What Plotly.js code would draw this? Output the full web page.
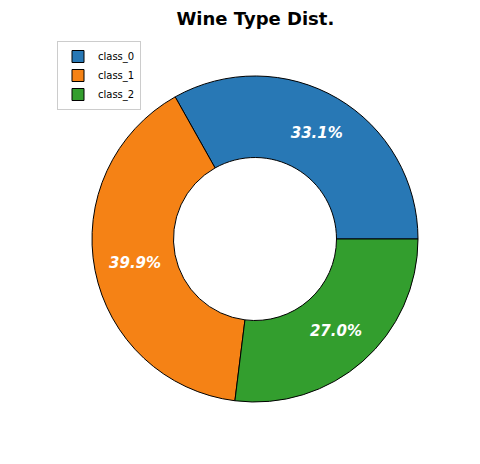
<!DOCTYPE html>
<html>
<head>
<meta charset="utf-8">
<script src="https://cdn.plot.ly/plotly-3.0.1.min.js"></script>
<style>
  html, body { margin: 0; padding: 0; background: #fff; }
  #chart { width: 480px; height: 464px; }
</style>
</head>
<body>
<div id="chart"></div>
<script>
// wine target counts per class
const classNames = ['class_0', 'class_1', 'class_2'];
const classCounts = [59, 71, 48];
const sliceColors = ['#2878b5', '#f58215', '#339e2e'];

// plotly's counterclockwise mode puts the end of the first slice at `rotation`,
// so shift it so that class_0 starts at 3 o'clock like the original
const total = classCounts.reduce((a, b) => a + b, 0);
const startRotation = 90 - 360 * classCounts[0] / total;

const trace = {
    type: 'pie',
    labels: classNames,
    values: classCounts,
    hole: 0.5,
    sort: false,
    direction: 'counterclockwise',
    rotation: startRotation,
    marker: { colors: sliceColors, line: { color: '#000', width: 1 } },
    texttemplate: '%{percent:.1%}',
    textposition: 'inside',
    insidetextorientation: 'horizontal',
    textfont: { family: 'DejaVu Sans', size: 15, color: '#fff', weight: 'bold', style: 'italic' },
    hoverinfo: 'skip',
    domain: { x: [92 / 480, 418 / 480], y: [62 / 464, 388 / 464] }
};

const layout = {
    width: 480,
    height: 464,
    margin: { l: 0, r: 0, t: 0, b: 0 },
    paper_bgcolor: '#fff',
    font: { family: 'DejaVu Sans', color: '#000' },
    title: {
        text: '<b>Wine Type Dist.</b>',
        font: { family: 'DejaVu Sans', size: 18, color: '#000' },
        x: 0.532, xanchor: 'center',
        y: 1 - 19 / 464, yanchor: 'middle'
    },
    showlegend: true,
    legend: {
        x: 57 / 480, xanchor: 'left',
        y: 1 - 41 / 464, yanchor: 'top',
        bgcolor: '#fff',
        bordercolor: '#ccc',
        borderwidth: 1,
        font: { family: 'DejaVu Sans', size: 10 },
        itemwidth: 30,
        tracegroupgap: 0
    }
};

Plotly.newPlot('chart', [trace], layout, { staticPlot: true, displayModeBar: false });
</script>
</body>
</html>
